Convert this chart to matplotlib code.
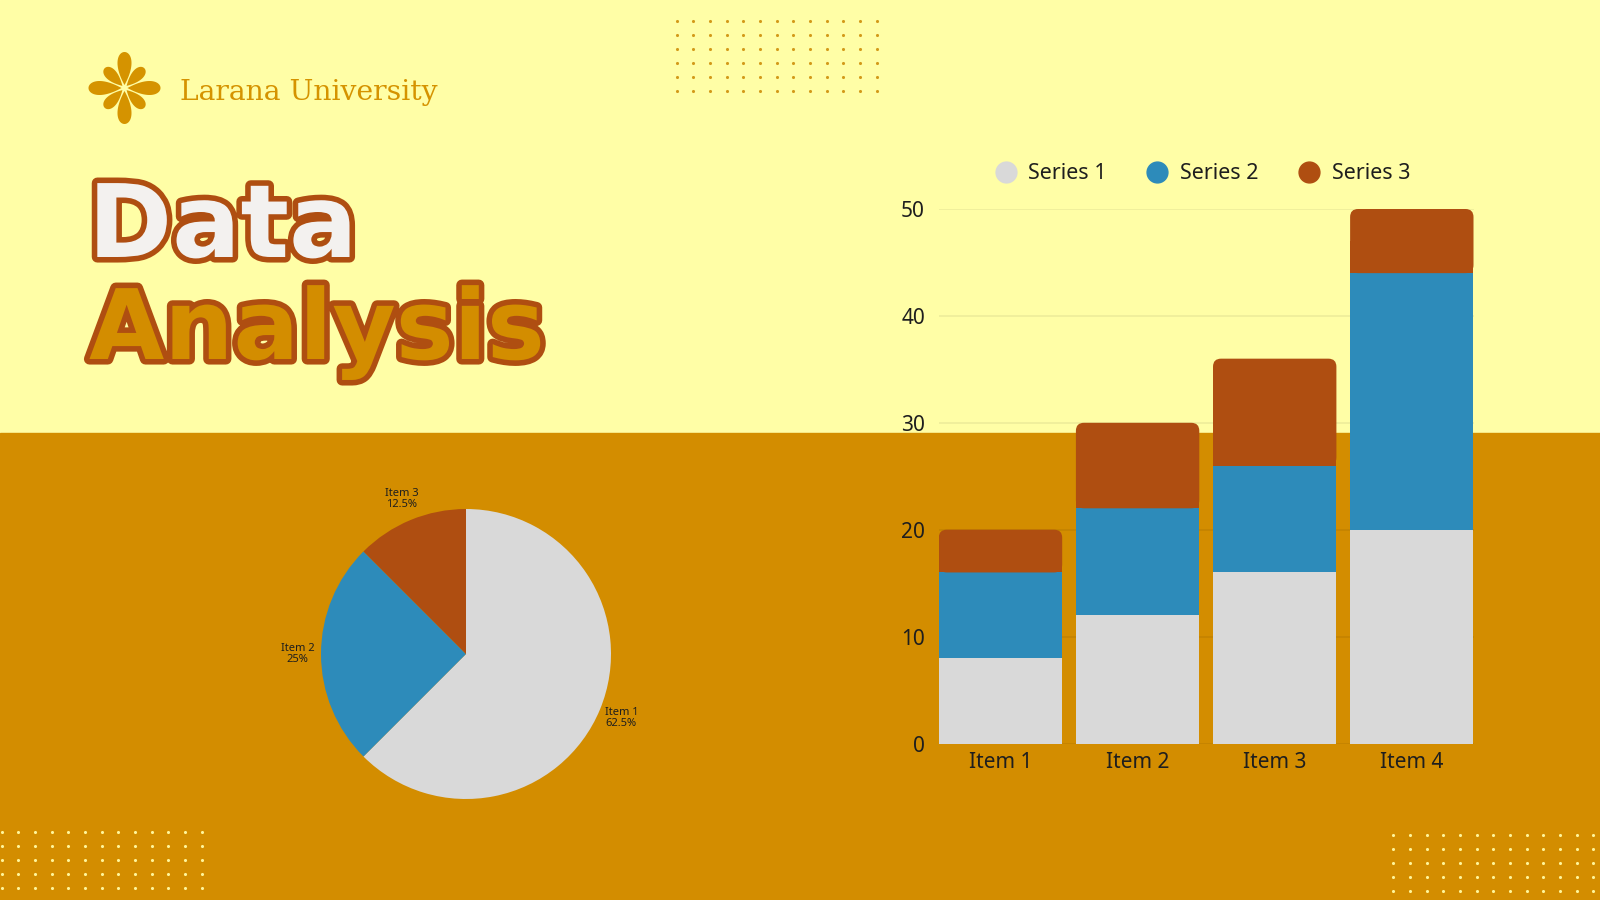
import numpy as np
import matplotlib
matplotlib.use("Agg")
import matplotlib.pyplot as plt
import matplotlib.patheffects as pe
from matplotlib.patches import Rectangle, FancyBboxPatch, Polygon
from matplotlib.lines import Line2D

# data
items = ["Item 1", "Item 2", "Item 3", "Item 4"]
series_names = ["Series 1", "Series 2", "Series 3"]
series1 = [8, 12, 16, 20]
series2 = [8, 10, 10, 24]
series3 = [4, 8, 10, 6]
yticks = [0, 10, 20, 30, 40, 50]

pie_labels = ["Item 1", "Item 2", "Item 3"]
pie_values = [5, 2, 1]

# colours
YELLOW = "#FFFEA6"
ORANGE = "#D38D00"
GRAY = "#D9D9D9"
BLUE = "#2D8BBA"
BROWN = "#AF4E11"
LOGO = "#D59300"
INK = "#1E1E1E"
colors = [GRAY, BLUE, BROWN]

W, H = 1600, 900
fig = plt.figure(figsize=(16, 9), dpi=100)

# background layer in pixel coords (y down)
bg = fig.add_axes([0, 0, 1, 1])
bg.set_xlim(0, W)
bg.set_ylim(H, 0)
bg.axis("off")
bg.add_patch(Rectangle((0, 0), W, 433, color=YELLOW, zorder=0))
bg.add_patch(Rectangle((0, 433), W, H - 433, color=ORANGE, zorder=0))

# dot grids
def dots(x0, y0, ncol, nrow, color):
    xs = x0 + 16.67 * np.arange(ncol)
    ys = y0 + 14.0 * np.arange(nrow)
    gx, gy = np.meshgrid(xs, ys)
    bg.scatter(gx.ravel(), gy.ravel(), s=5, color=color, linewidths=0, zorder=1)

dots(676.7, 20.7, 13, 6, "#D39A1A")
dots(1.5, 832.3, 13, 5, "#FFF59A")
dots(1393.3, 835.3, 13, 5, "#FFF59A")

# flower logo
cx, cy = 124.5, 88.0
t = np.linspace(0, np.pi, 60)
tx, ty = np.cos(t), np.sin(t) * np.sin(t / 2)
ty = ty / ty.max()
for k in range(8):
    ang = np.deg2rad(90 - 45 * k)
    if k % 2 == 0:
        L, Wd = 33.0, 14.0
    else:
        L, Wd = 25.0, 11.5
    u = 3 + (1 - tx) / 2 * L
    v = ty * Wd / 2
    uu = np.concatenate([u, u[::-1]])
    vv = np.concatenate([v, -v[::-1]])
    px = cx + uu * np.cos(ang) - vv * np.sin(ang)
    py = cy - (uu * np.sin(ang) + vv * np.cos(ang))
    bg.add_patch(Polygon(np.column_stack([px, py]), closed=True,
                         color=LOGO, lw=0, zorder=2))

bg.text(180, 100, "Larana University", fontsize=20.3, family="DejaVu Serif",
        color=LOGO, va="baseline", ha="left", zorder=3)

outline = [pe.withStroke(linewidth=8, foreground=BROWN)]
bg.text(88, 257, "Data", fontsize=73, family="DejaVu Sans", weight="bold",
        color="#F3F1EF", va="baseline", ha="left", path_effects=outline, zorder=3)
bg.text(89, 359, "Analysis", fontsize=70, family="DejaVu Sans", weight="bold",
        color=ORANGE, va="baseline", ha="left", path_effects=outline, zorder=3)

# stacked bar chart
ax = fig.add_axes([938.8 / W, 1 - 743.5 / H, 534.7 / W, 534.5 / H])
ax.patch.set_visible(False)
x = np.arange(len(items))
bw = 0.9
s1 = np.array(series1)
s2 = np.array(series2)
s3 = np.array(series3)
ax.bar(x, s1, bw, color=GRAY, zorder=3)
ax.bar(x, s2, bw, bottom=s1, color=BLUE, zorder=3)
tops = ax.bar(x, s3, bw, bottom=s1 + s2, color=BROWN, zorder=3)

# round the top corners of the last segment
px_per_x = 534.7 / (len(items) - 1 + bw)
px_per_y = 534.5 / 50
r_px = 8
for bar in tops:
    bar.set_visible(False)
    bx, by, bwid, bh = bar.get_x(), bar.get_y(), bar.get_width(), bar.get_height()
    rs = r_px / px_per_x
    ax.add_patch(FancyBboxPatch((bx, by), bwid, bh,
                                boxstyle=f"round,pad=0,rounding_size={rs}",
                                mutation_aspect=px_per_x / px_per_y,
                                color=BROWN, lw=0, zorder=3))
    ax.add_patch(Rectangle((bx, by), bwid, bh / 2, color=BROWN, lw=0, zorder=3))

ax.set_xlim(-bw / 2, len(items) - 1 + bw / 2)
ax.set_ylim(0, 50)
ax.set_yticks(yticks)
ax.set_xticks(x, items)
ax.yaxis.grid(True, color="#000000", alpha=0.07, lw=1.2, zorder=0)
for sp in ax.spines.values():
    sp.set_visible(False)
ax.tick_params(axis="both", length=0, labelsize=15, colors=INK)
ax.tick_params(axis="y", pad=10)
ax.tick_params(axis="x", pad=6)
for lbl in ax.get_xticklabels() + ax.get_yticklabels():
    lbl.set_family("Noto Sans")

handles = [Line2D([], [], marker="o", ls="none", markersize=15,
                  markerfacecolor=c, markeredgecolor=c) for c in colors]
leg = ax.legend(handles, series_names, loc="center", bbox_to_anchor=(0.493, 1.066),
                ncol=3, frameon=False, handlelength=1.0, handletextpad=0.55,
                columnspacing=1.85, prop={"family": "Noto Sans", "size": 15.5})
for txt in leg.get_texts():
    txt.set_color(INK)

# pie chart
pax = fig.add_axes([277.5 / W, (H - 842.5) / H, 377 / W, 377 / H])
total = sum(pie_values)
labels = [f"{n}\n{v / total * 100:g}%" for n, v in zip(pie_labels, pie_values)]
pax.pie(pie_values, labels=labels, colors=colors, startangle=90,
        counterclock=False, labeldistance=1.16,
        textprops={"ha": "center", "fontsize": 8, "color": INK,
                   "family": "Noto Sans", "linespacing": 1.0})
pax.set_xlim(-1.3, 1.3)
pax.set_ylim(-1.3, 1.3)
pax.set_aspect("equal")

fig.savefig("out.png", dpi=100)
